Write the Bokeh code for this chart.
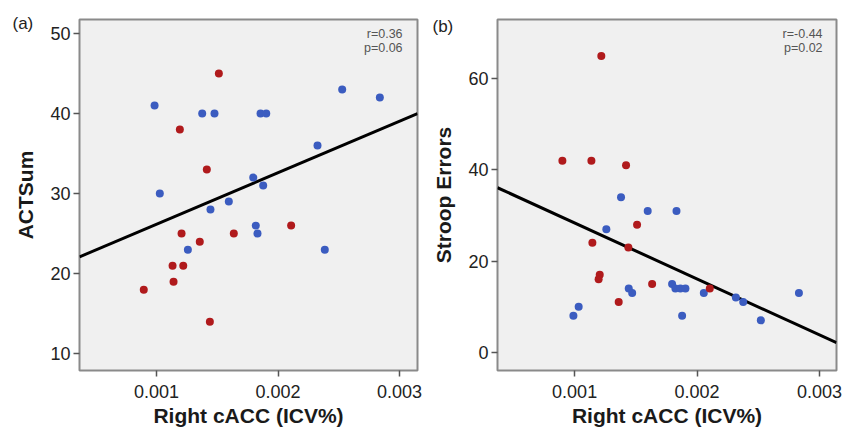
from bokeh.plotting import figure
from bokeh.layouts import row
from bokeh.models import FixedTicker, NumeralTickFormatter, Label, Range1d
from bokeh.embed import file_html
from bokeh.resources import INLINE

# ---------------- data ----------------
# Panel (a): ACTSum vs Right cACC
a_blue_x = [0.000984, 0.002528, 0.002838, 0.001376, 0.001477, 0.001856, 0.001903, 0.002325,
            0.001027, 0.001796, 0.001878, 0.001595, 0.001444, 0.001817, 0.001831, 0.001258, 0.002385]
a_blue_y = [41, 43, 42, 40, 40, 40, 40, 36, 30, 32, 31, 29, 28, 26, 25, 23, 23]
a_red_x = [0.001513, 0.001192, 0.001414, 0.002108, 0.001636, 0.001206, 0.001356,
           0.001132, 0.001220, 0.001140, 0.000895, 0.001439]
a_red_y = [45, 38, 33, 26, 25, 25, 24, 21, 21, 19, 18, 14]
a_fit_x = [0.000366, 0.003148]
a_fit_y = [22.1, 40.0]
a_stats = ["r=0.36", "p=0.06"]

# Panel (b): Stroop Errors vs Right cACC
b_blue_x = [0.001379, 0.001597, 0.001832, 0.001259, 0.001796, 0.001823, 0.001864, 0.001905,
            0.001442, 0.001470, 0.002055, 0.002317, 0.002377, 0.002832, 0.001033, 0.000990,
            0.001878, 0.002521]
b_blue_y = [34, 31, 31, 27, 15, 14, 14, 14, 14, 13, 13, 12, 11, 13, 10, 8, 8, 7]
b_red_x = [0.001218, 0.000900, 0.001137, 0.001420, 0.001510, 0.001145, 0.001439,
           0.001205, 0.001196, 0.001633, 0.002104, 0.001360]
b_red_y = [65, 42, 42, 41, 28, 24, 23, 17, 16, 15, 14, 11]
b_fit_x = [0.00037, 0.003139]
b_fit_y = [36.1, 2.1]
b_stats = ["r=-0.44", "p=0.02"]

x_ticks = [0.001, 0.002, 0.003]
a_y_ticks = [10, 20, 30, 40, 50]
b_y_ticks = [0, 20, 40, 60]
x_title = "Right cACC (ICV%)"

BLUE = "#3b5cc0"
RED = "#b01a1c"
FONT = "Liberation Sans"


def make_panel(width, border_left, border_right, xr, yr, yticks, ylabel,
               bx, by, rx, ry, fx, fy, stats, tag, tag_sxy, stat_xy, stat_dy):
    p = figure(width=width, height=432, output_backend="svg", toolbar_location=None,
               x_range=Range1d(*xr), y_range=Range1d(*yr),
               min_border_left=border_left, min_border_right=border_right,
               min_border_top=13, min_border_bottom=62)
    p.background_fill_color = "#f0f0f0"
    p.border_fill_color = "white"
    p.outline_line_color = "#8a8a8a"
    p.outline_line_width = 2
    p.grid.visible = False

    p.line(fx, fy, line_color="black", line_width=3)
    p.scatter(bx, by, size=8, fill_color=BLUE, line_color=None)
    p.scatter(rx, ry, size=8, fill_color=RED, line_color=None)

    for ax in (p.xaxis[0], p.yaxis[0]):
        ax.axis_line_color = None
        ax.major_tick_line_color = "#555555"
        ax.major_tick_line_width = 1.5
        ax.major_tick_out = 6
        ax.major_tick_in = 0
        ax.minor_tick_line_color = None
        ax.major_label_text_font = FONT
        ax.major_label_text_font_size = "18px"
        ax.major_label_text_color = "#222222"
        ax.axis_label_text_font = FONT
        ax.axis_label_text_font_style = "bold"
        ax.axis_label_text_font_size = "21px"
        ax.axis_label_text_color = "#1a1a1a"

    p.xaxis.ticker = FixedTicker(ticks=x_ticks)
    p.xaxis.formatter = NumeralTickFormatter(format="0.000")
    p.xaxis.axis_label = x_title
    p.xaxis.major_label_standoff = 8
    p.xaxis.axis_label_standoff = 3

    p.yaxis.ticker = FixedTicker(ticks=yticks)
    p.yaxis.axis_label = ylabel
    p.yaxis.major_label_standoff = 3
    p.yaxis.axis_label_standoff = 10

    p.add_layout(Label(x=tag_sxy[0], y=tag_sxy[1], x_units="screen", y_units="screen",
                       text=tag, text_font=FONT,
                       text_font_size="17px", text_color="#222222",
                       text_baseline="middle", text_align="left"), "above")
    for i, s in enumerate(stats):
        p.add_layout(Label(x=stat_xy[0], y=stat_xy[1] - i * stat_dy, text=s,
                           text_font=FONT, text_font_size="12.5px", text_color="#555555",
                           text_baseline="middle", text_align="right"))
    return p


pa = make_panel(423, 79, 6, (0.000366, 0.003148), (7.9, 51.75), a_y_ticks, "ACTSum",
                a_blue_x, a_blue_y, a_red_x, a_red_y, a_fit_x, a_fit_y, a_stats,
                "(a)", (-67, -4), (0.003025, 49.9), 1.75)
pb = make_panel(420, 74, 7, (0.00037, 0.003139), (-4.0, 73.0), b_y_ticks, "Stroop Errors",
                b_blue_x, b_blue_y, b_red_x, b_red_y, b_fit_x, b_fit_y, b_stats,
                "(b)", (-65, -7), (0.003025, 69.8), 3.05)

layout = row(pa, pb)
open("out.html", "w").write(file_html(layout, INLINE))
